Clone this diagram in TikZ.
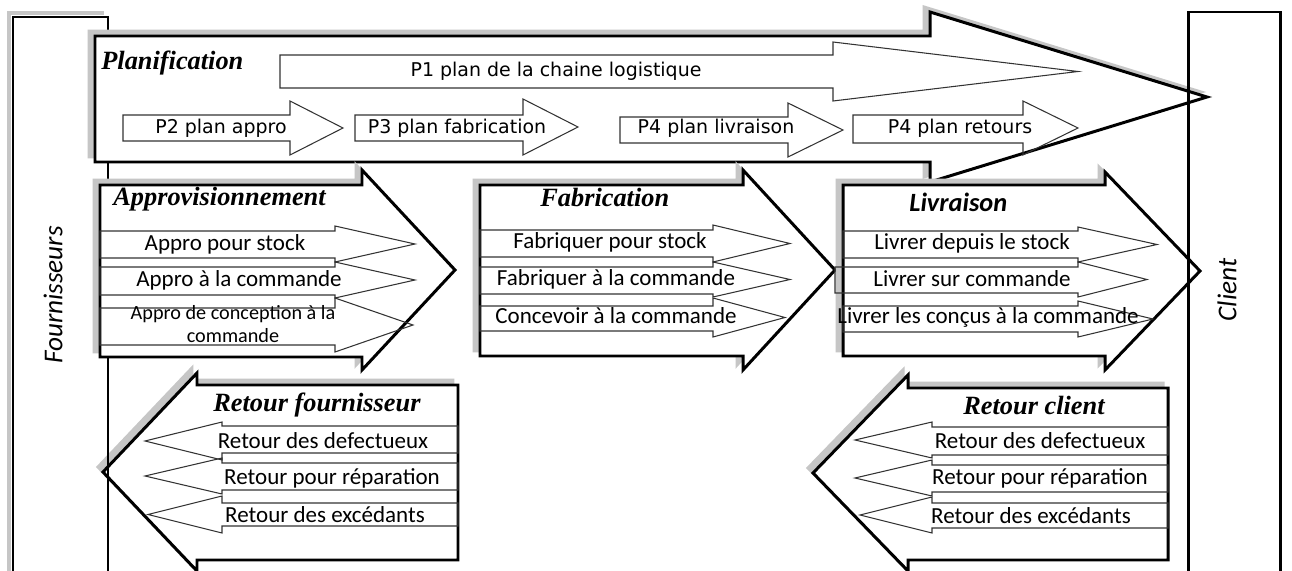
\documentclass[tikz,border=0pt]{standalone}
\usepackage{fontspec}
\setmainfont{Liberation Serif}
\newfontfamily\calibri{Carlito}
\newfontfamily\verdana{DejaVu Sans}
\usetikzlibrary{positioning}

% block arrow: body left x, head base x, tip x, body top, body bottom, head top, head bottom
\newcommand{\blockarrow}[8][]{%
  \draw[#1] (#2,#5) -- (#3,#5) -- (#3,#7) -- (#4,{(#7+#8)/2}) -- (#3,#8) -- (#3,#6) -- (#2,#6) -- cycle;}

\begin{document}
\begin{tikzpicture}[x=0.02cm, y=-0.02cm,
		bigarrow/.style={draw, line width=1.7pt, fill=white, line join=miter},
		backshadow/.style={draw=gray!45, fill=gray!45, line width=1.7pt},
		smallarrow/.style={draw=black!80, line width=0.6pt},
		sidebox/.style={draw, line width=1.7pt},
		heading/.style={font=\fontsize{15}{18}\selectfont\bfseries\itshape, inner sep=0pt, anchor=west},
		ptext/.style={font=\verdana\fontsize{10.8}{13}\selectfont, inner sep=0pt},
		subtext/.style={font=\calibri\fontsize{13.1}{15}\selectfont, inner sep=0pt},
		sidetext/.style={font=\calibri\itshape\fontsize{15.5}{18}\selectfont, rotate=90, inner sep=0pt}]
	\useasboundingbox (0,0) rectangle (1292,571);
	\clip (0,0) rectangle (1292,571);
	\fill[white] (0,0) rectangle (1292,571);
	
	% retour fournisseur
	\blockarrow[backshadow, shift={(-5,-5)}]{458}{197}{103}{385}{560}{373}{571}
	\blockarrow[bigarrow]{458}{197}{103}{385}{560}{373}{571}
	\blockarrow[smallarrow]{458}{222}{145}{426}{453}{422}{460}
	\blockarrow[smallarrow]{458}{222}{145}{463}{490}{458}{494}
	\blockarrow[smallarrow]{458}{222}{148}{503}{526}{496}{533}
	\node[heading] (retf) at (213,405) {Retour fournisseur};
	\node[subtext] (rf1) at (323,441) {Retour des defectueux};
	\node[subtext] (rf2) at (332,478) {Retour pour réparation};
	\node[subtext] (rf3) at (325,515) {Retour des excédants};
	
	% fournisseurs
	\draw[draw=gray!45, line width=2.5pt] (9,600) |- (104,13);
	\draw[sidebox] (13,600) |- (108,17) -- (108,600);
	\node[sidetext] (fourn) at (53,295) {Fournisseurs};
	
	% planification
	\blockarrow[backshadow, shift={(-6,-5)}]{95}{930}{1207}{36}{162}{12}{182}
	\blockarrow[bigarrow]{95}{930}{1207}{36}{162}{12}{182}
	\blockarrow[smallarrow]{280}{833}{1078}{55}{88}{42}{101}
	\blockarrow[smallarrow]{123}{290}{343}{115}{141}{101}{155}
	\blockarrow[smallarrow]{355}{523}{578}{115}{141}{99}{155}
	\blockarrow[smallarrow]{620}{788}{843}{117}{143}{103}{157}
	\blockarrow[smallarrow]{853}{1023}{1078}{115}{143}{101}{155}
	\node[heading] (planif) at (101,63) {Planification};
	\node[ptext] (p1) at (556,71) {P1 plan de la chaine logistique};
	\node[ptext] (p2) at (221,128) {P2 plan appro};
	\node[ptext] (p3) at (457,128) {P3 plan fabrication};
	\node[ptext] (p4a) at (716,128) {P4 plan livraison};
	\node[ptext] (p4b) at (960,128) {P4 plan retours};
	
	% approvisionnement
	\blockarrow[backshadow, shift={(-6,-5)}]{100}{362}{455}{185}{357}{170}{370}
	\blockarrow[bigarrow]{100}{362}{455}{185}{357}{170}{370}
	\blockarrow[smallarrow]{100}{335}{415}{231}{258}{226}{262}
	\blockarrow[smallarrow]{100}{335}{415}{267}{295}{262}{298}
	\blockarrow[smallarrow]{100}{335}{413}{308}{345}{298}{352}
	\node[heading] (appro) at (113,199) {Approvisionnement};
	\node[subtext] (ap1) at (225,244) {Appro pour stock};
	\node[subtext] (ap2) at (239,280) {Appro à la commande};
	\node[subtext, font=\calibri\fontsize{11.5}{13}\selectfont, align=center] (ap3) at (233,324) {Appro de conception à la\\commande};
	
	% fabrication
	\blockarrow[backshadow, shift={(-6,-5)}]{480}{743}{835}{185}{356}{170}{370}
	\blockarrow[bigarrow]{480}{743}{835}{185}{356}{170}{370}
	\blockarrow[smallarrow]{480}{713}{790}{230}{257}{225}{262}
	\blockarrow[smallarrow]{480}{713}{790}{267}{294}{262}{297}
	\blockarrow[smallarrow]{480}{713}{785}{306}{331}{298}{337}
	\node[heading] (fab) at (540,198) {Fabrication};
	\node[subtext] (fb1) at (610,242) {Fabriquer pour stock};
	\node[subtext] (fb2) at (616,279) {Fabriquer à la commande};
	\node[subtext] (fb3) at (616,316) {Concevoir à la commande};
	
	% livraison
	\blockarrow[backshadow, shift={(-6,-5)}]{843}{1105}{1200}{185}{356}{172}{370}
	\blockarrow[bigarrow]{843}{1105}{1200}{185}{356}{172}{370}
	\blockarrow[smallarrow]{843}{1078}{1157}{231}{258}{227}{262}
	\blockarrow[smallarrow]{835}{1078}{1147}{267}{293}{262}{297}
	\blockarrow[smallarrow]{843}{1078}{1153}{306}{332}{301}{337}
	\node[heading, font=\calibri\fontsize{15}{18}\selectfont\bfseries\itshape] (livr) at (909,202) {Livraison};
	\node[subtext] (lv1) at (972,243) {Livrer depuis le stock};
	\node[subtext] (lv2) at (972,279) {Livrer sur commande};
	\node[subtext] (lv3) at (988,317) {Livrer les conçus à la commande};
	
	% retour client
	\blockarrow[backshadow, shift={(-5,-5)}]{1168}{908}{813}{388}{560}{375}{571}
	\blockarrow[bigarrow]{1168}{908}{813}{388}{560}{375}{571}
	\blockarrow[smallarrow]{1168}{932}{855}{427}{455}{422}{458}
	\blockarrow[smallarrow]{1168}{932}{855}{465}{492}{460}{496}
	\blockarrow[smallarrow]{1168}{932}{860}{503}{528}{497}{533}
	\node[heading] (retc) at (963,406) {Retour client};
	\node[subtext] (rc1) at (1040,441) {Retour des defectueux};
	\node[subtext] (rc2) at (1040,478) {Retour pour réparation};
	\node[subtext] (rc3) at (1031,516) {Retour des excédants};
	
	% client
	\draw[sidebox] (1188,600) |- (1280,12) -- (1280,600);
	\node[sidetext] (client) at (1227,290) {Client};
\end{tikzpicture}
\end{document}
